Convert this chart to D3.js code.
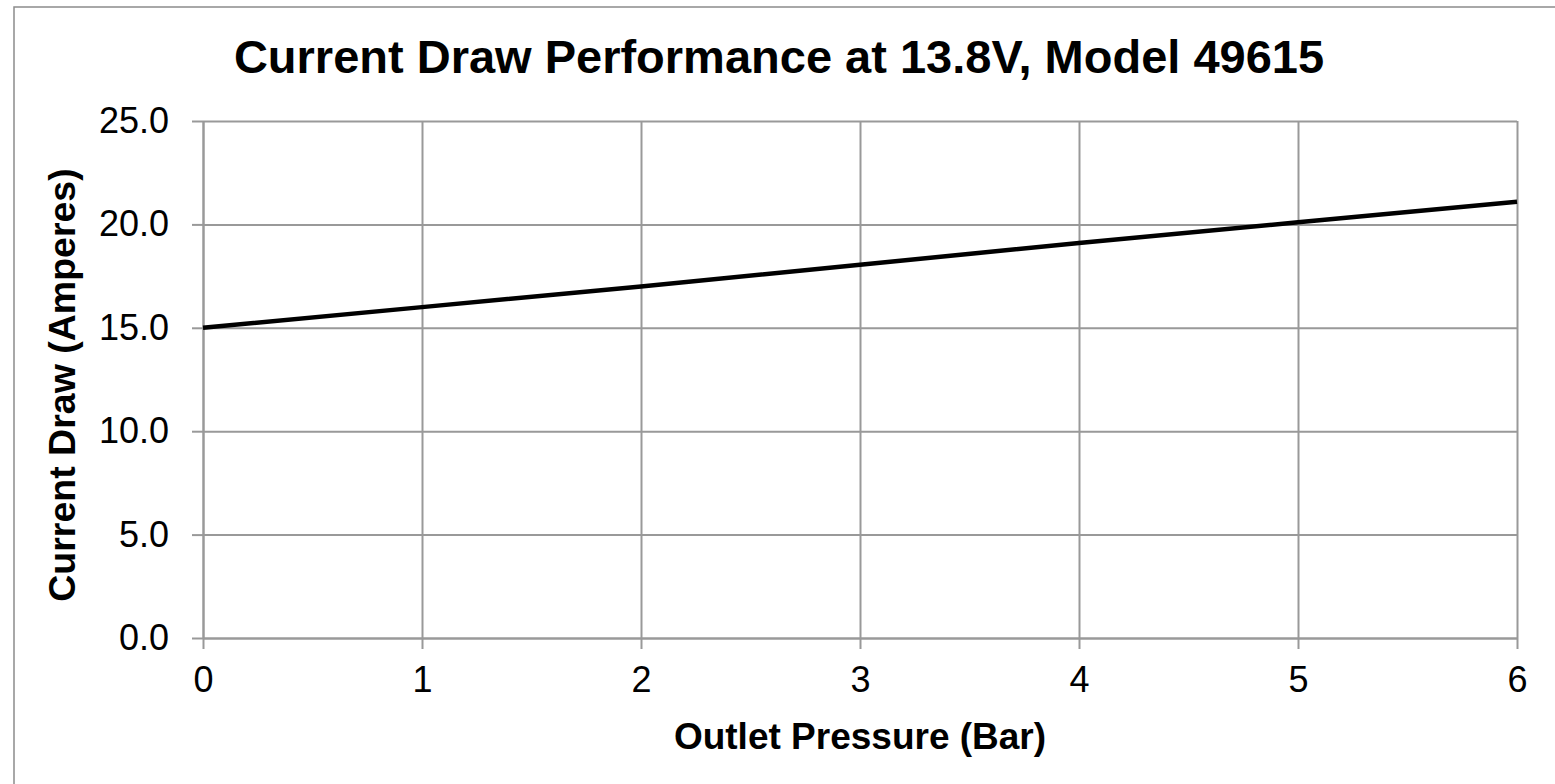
<!DOCTYPE html>
<html>
<head>
<meta charset="utf-8">
<script src="https://cdn.jsdelivr.net/npm/d3@7"></script>
<style>
  body { margin: 0; background: #fff; }
  svg { display: block; font-family: "Liberation Sans", Arial, sans-serif; }
</style>
</head>
<body>
<div id="plot"></div>
<script>
// chart data
const pressure = [0, 1, 2, 3, 4, 5, 6];
const current = [15.0, 16.0, 17.0, 18.05, 19.1, 20.1, 21.1];
const xTicks = [0, 1, 2, 3, 4, 5, 6];
const yTicks = [0, 5, 10, 15, 20, 25];

const width = 1555;
const height = 784;
const margin = { left: 203, right: 1555 - 1517, top: 121, bottom: 784 - 638 };

const svg = d3.select("div#plot")
  .append("svg")
  .attr("width", width)
  .attr("height", height);

// outer frame
svg.append("rect")
  .attr("x", 14)
  .attr("y", 7)
  .attr("width", width + 20)
  .attr("height", height + 20)
  .attr("fill", "#fff")
  .attr("stroke", "#8c8c8c")
  .attr("stroke-width", 1.5);

const x = d3.scaleLinear()
  .domain([0, 6])
  .range([margin.left, width - margin.right]);

const y = d3.scaleLinear()
  .domain([0, 25])
  .range([height - margin.bottom, margin.top]);

const grid = "#999";

// horizontal grid
svg.append("g")
  .attr("transform", `translate(${margin.left},0)`)
  .call(d3.axisLeft(y)
    .tickValues(yTicks)
    .tickSize(-(width - margin.left - margin.right))
    .tickSizeOuter(0)
    .tickFormat(""))
  .call(g => g.select(".domain").remove())
  .call(g => g.selectAll(".tick line").attr("stroke", grid).attr("stroke-width", 2));

// vertical grid
svg.append("g")
  .attr("transform", `translate(0,${height - margin.bottom})`)
  .call(d3.axisBottom(x)
    .tickValues(xTicks)
    .tickSize(-(height - margin.top - margin.bottom))
    .tickSizeOuter(0)
    .tickFormat(""))
  .call(g => g.select(".domain").remove())
  .call(g => g.selectAll(".tick line").attr("stroke", grid).attr("stroke-width", 2));

// y axis with labels
svg.append("g")
  .attr("transform", `translate(${margin.left},0)`)
  .call(d3.axisLeft(y)
    .tickValues(yTicks)
    .tickSize(11)
    .tickSizeOuter(0)
    .tickPadding(23)
    .tickFormat(d3.format(".1f")))
  .call(g => g.select(".domain").attr("stroke", grid).attr("stroke-width", 2))
  .call(g => g.selectAll(".tick line").attr("stroke", grid).attr("stroke-width", 2))
  .call(g => g.selectAll("text")
    .attr("fill", "#000")
    .style("font-family", "'Liberation Sans', Arial, sans-serif")
    .style("font-size", "36px"));

// x axis with labels
svg.append("g")
  .attr("transform", `translate(0,${height - margin.bottom})`)
  .call(d3.axisBottom(x)
    .tickValues(xTicks)
    .tickSize(11)
    .tickSizeOuter(0)
    .tickPadding(17)
    .tickFormat(d3.format("d")))
  .call(g => g.select(".domain").attr("stroke", grid).attr("stroke-width", 2))
  .call(g => g.selectAll(".tick line").attr("stroke", grid).attr("stroke-width", 2))
  .call(g => g.selectAll("text")
    .attr("fill", "#000")
    .style("font-family", "'Liberation Sans', Arial, sans-serif")
    .style("font-size", "36px"));

// series line
const line = d3.line()
  .x((d, i) => x(pressure[i]))
  .y(d => y(d));

svg.append("path")
  .datum(current)
  .attr("fill", "none")
  .attr("stroke", "#000")
  .attr("stroke-width", 4.5)
  .attr("d", line);

// titles
svg.append("text")
  .attr("x", 779)
  .attr("y", 73)
  .attr("text-anchor", "middle")
  .style("font-size", "47px")
  .style("font-weight", "bold")
  .text("Current Draw Performance at 13.8V, Model 49615");

svg.append("text")
  .attr("x", (margin.left + width - margin.right) / 2)
  .attr("y", 749)
  .attr("text-anchor", "middle")
  .style("font-size", "37px")
  .style("font-weight", "bold")
  .text("Outlet Pressure (Bar)");

svg.append("text")
  .attr("transform", `translate(75, 385) rotate(-90)`)
  .attr("text-anchor", "middle")
  .style("font-size", "37.5px")
  .style("font-weight", "bold")
  .text("Current Draw (Amperes)");
</script>
</body>
</html>
